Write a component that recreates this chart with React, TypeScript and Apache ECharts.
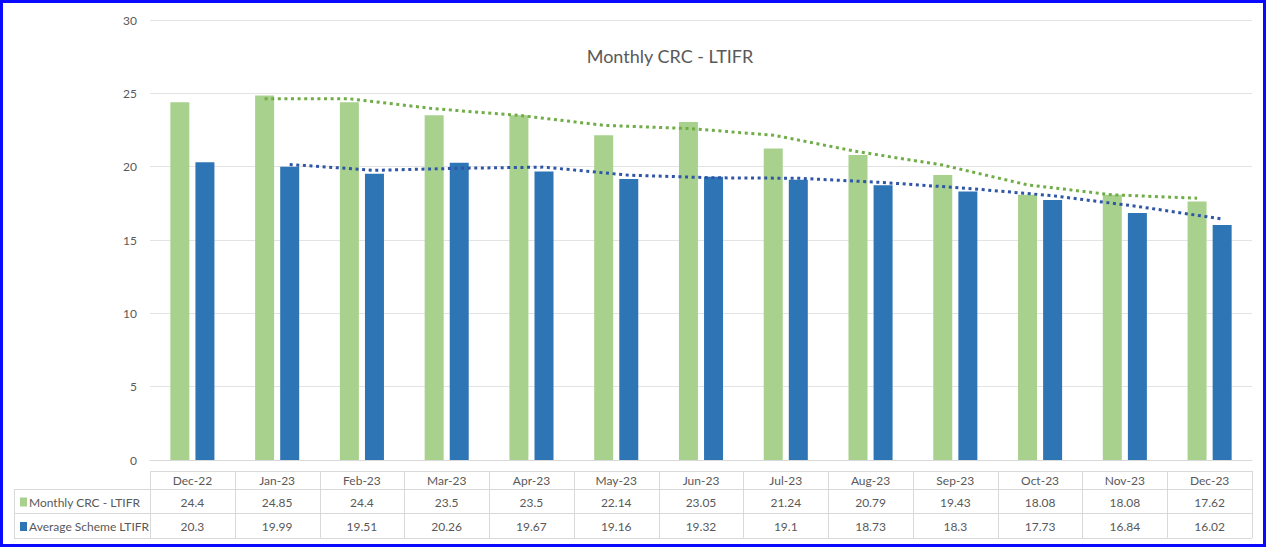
import React, { useEffect, useRef } from "react";
import * as echarts from "echarts";

const categories = ["Dec-22", "Jan-23", "Feb-23", "Mar-23", "Apr-23", "May-23", "Jun-23", "Jul-23", "Aug-23", "Sep-23", "Oct-23", "Nov-23", "Dec-23"];
const crcName = "Monthly CRC - LTIFR";
const avgName = "Average Scheme LTIFR";
const crcValues = [24.4, 24.85, 24.4, 23.5, 23.5, 22.14, 23.05, 21.24, 20.79, 19.43, 18.08, 18.08, 17.62];
const avgValues = [20.3, 19.99, 19.51, 20.26, 19.67, 19.16, 19.32, 19.1, 18.73, 18.3, 17.73, 16.84, 16.02];
// dotted trendlines (2-period moving average)
const crcTrend = [null, 24.63, 24.63, 23.95, 23.5, 22.82, 22.6, 22.15, 21.02, 20.11, 18.76, 18.08, 17.85];
const avgTrend = [null, 20.15, 19.75, 19.89, 19.97, 19.42, 19.24, 19.21, 18.92, 18.52, 18.02, 17.29, 16.43];
const yTicks = { min: 0, max: 30, interval: 5 };

const GREEN = "#a9d18e";
const BLUE = "#2e75b6";
const GREEN_TREND = "#70ad47";
const BLUE_TREND = "#2f55a6";
const TXT = "#595959";
const FONT = "Lato, 'Noto Sans', sans-serif";

export default function App() {
  const ref = useRef<HTMLDivElement>(null);
  useEffect(() => {
    if (!ref.current) return;
    const chart = echarts.init(ref.current, null, { renderer: "svg" });
    const gridLeft = 150;
    const gridRight = 14;
    const gridTop = 20;
    const gridBottom = 87;
    const W = 1266;
    const plotW = W - gridLeft - gridRight;
    const cellW = plotW / categories.length;
    const barW = 19;
    const offset = (barW + barW * 0.32) / 2 / cellW;

    chart.setOption({
      animation: false,
      textStyle: { fontFamily: FONT },
      title: {
        text: "Monthly CRC - LTIFR",
        left: 665,
        top: 42,
        textAlign: "center",
        textStyle: { fontFamily: FONT, fontSize: 18, fontWeight: "normal", color: TXT },
      },
      grid: { left: gridLeft, right: gridRight, top: gridTop, bottom: gridBottom, containLabel: false },
      xAxis: [
        {
          type: "category",
          data: categories,
          axisLine: { show: true, lineStyle: { color: "#d9d9d9" } },
          axisTick: { show: false },
          axisLabel: { show: false },
        },
        {
          type: "value",
          min: -0.5,
          max: categories.length - 0.5,
          show: false,
        },
      ],
      yAxis: {
        type: "value",
        min: yTicks.min,
        max: yTicks.max,
        interval: yTicks.interval,
        axisLine: { show: false },
        axisTick: { show: false },
        axisLabel: { color: TXT, fontSize: 12, fontFamily: FONT, margin: 13 },
        splitLine: { lineStyle: { color: "#e3e3e3", width: 1 } },
      },
      series: [
        {
          name: crcName,
          type: "bar",
          data: crcValues,
          barWidth: barW,
          barGap: "32%",
          itemStyle: { color: GREEN },
        },
        {
          name: avgName,
          type: "bar",
          data: avgValues,
          barWidth: barW,
          barGap: "32%",
          itemStyle: { color: BLUE },
        },
        {
          type: "line",
          xAxisIndex: 1,
          data: crcTrend.map((v, i) => (v == null ? null : [i - offset, v])).filter((d) => d),
          symbol: "none",
          lineStyle: { color: GREEN_TREND, width: 3, type: [3, 3.6] },
          z: 5,
        },
        {
          type: "line",
          xAxisIndex: 1,
          data: avgTrend.map((v, i) => (v == null ? null : [i + offset, v])).filter((d) => d),
          symbol: "none",
          lineStyle: { color: BLUE_TREND, width: 3, type: [3, 3.6] },
          z: 5,
        },
      ],
    });

    // data table below the plot
    const lineColor = "#d9d9d9";
    const yHeadTop = 471;
    const yRow1Top = 489;
    const yRow2Top = 513;
    const yBottom = 538;
    const tableLeft = 14;
    const tableRight = W - gridRight;
    const els: any[] = [];
    const hline = (x1: number, x2: number, y: number) =>
      els.push({ type: "line", shape: { x1, y1: y + 0.5, x2, y2: y + 0.5 }, style: { stroke: lineColor, lineWidth: 1 }, silent: true });
    const vline = (x: number, y1: number, y2: number) =>
      els.push({ type: "line", shape: { x1: x + 0.5, y1, x2: x + 0.5, y2 }, style: { stroke: lineColor, lineWidth: 1 }, silent: true });
    hline(gridLeft, tableRight, yHeadTop);
    hline(tableLeft, tableRight, yRow1Top);
    hline(tableLeft, tableRight, yRow2Top);
    hline(tableLeft, tableRight, yBottom);
    vline(tableLeft, yRow1Top, yBottom);
    for (let i = 0; i <= categories.length; i++) {
      vline(Math.round(gridLeft + i * cellW), yHeadTop, yBottom);
    }
    const cellText = (text: string, x: number, y: number, align = "center") =>
      els.push({
        type: "text",
        x,
        y,
        style: { text, fill: TXT, font: `12px ${FONT}`, align, verticalAlign: "middle" },
        silent: true,
      });
    categories.forEach((c, i) => {
      const cx = chart.convertToPixel({ xAxisIndex: 0 }, c) as number;
      cellText(c, cx, (yHeadTop + yRow1Top) / 2 + 0.5);
      cellText(String(crcValues[i]), cx, (yRow1Top + yRow2Top) / 2 + 1);
      cellText(String(avgValues[i]), cx, (yRow2Top + yBottom) / 2 + 1);
    });
    const rows = [
      { name: crcName, color: GREEN, y: (yRow1Top + yRow2Top) / 2 + 1 },
      { name: avgName, color: BLUE, y: (yRow2Top + yBottom) / 2 + 1 },
    ];
    rows.forEach((r) => {
      els.push({ type: "rect", shape: { x: 20, y: r.y - 4.5, width: 7, height: 9 }, style: { fill: r.color }, silent: true });
      cellText(r.name, 29, r.y, "left");
    });
    chart.setOption({ graphic: { elements: els } });

    return () => chart.dispose();
  }, []);

  return (
    <div style={{ position: "fixed", left: 0, top: 0, width: 1266, height: 547, background: "#fff" }}>
      <div ref={ref} style={{ position: "absolute", left: 0, top: 0, width: 1266, height: 547 }} />
      <div
        style={{
          position: "absolute",
          left: 0,
          top: 0,
          width: 1266,
          height: 547,
          boxSizing: "border-box",
          border: "3px solid #0a0aff",
          pointerEvents: "none",
        }}
      />
    </div>
  );
}
